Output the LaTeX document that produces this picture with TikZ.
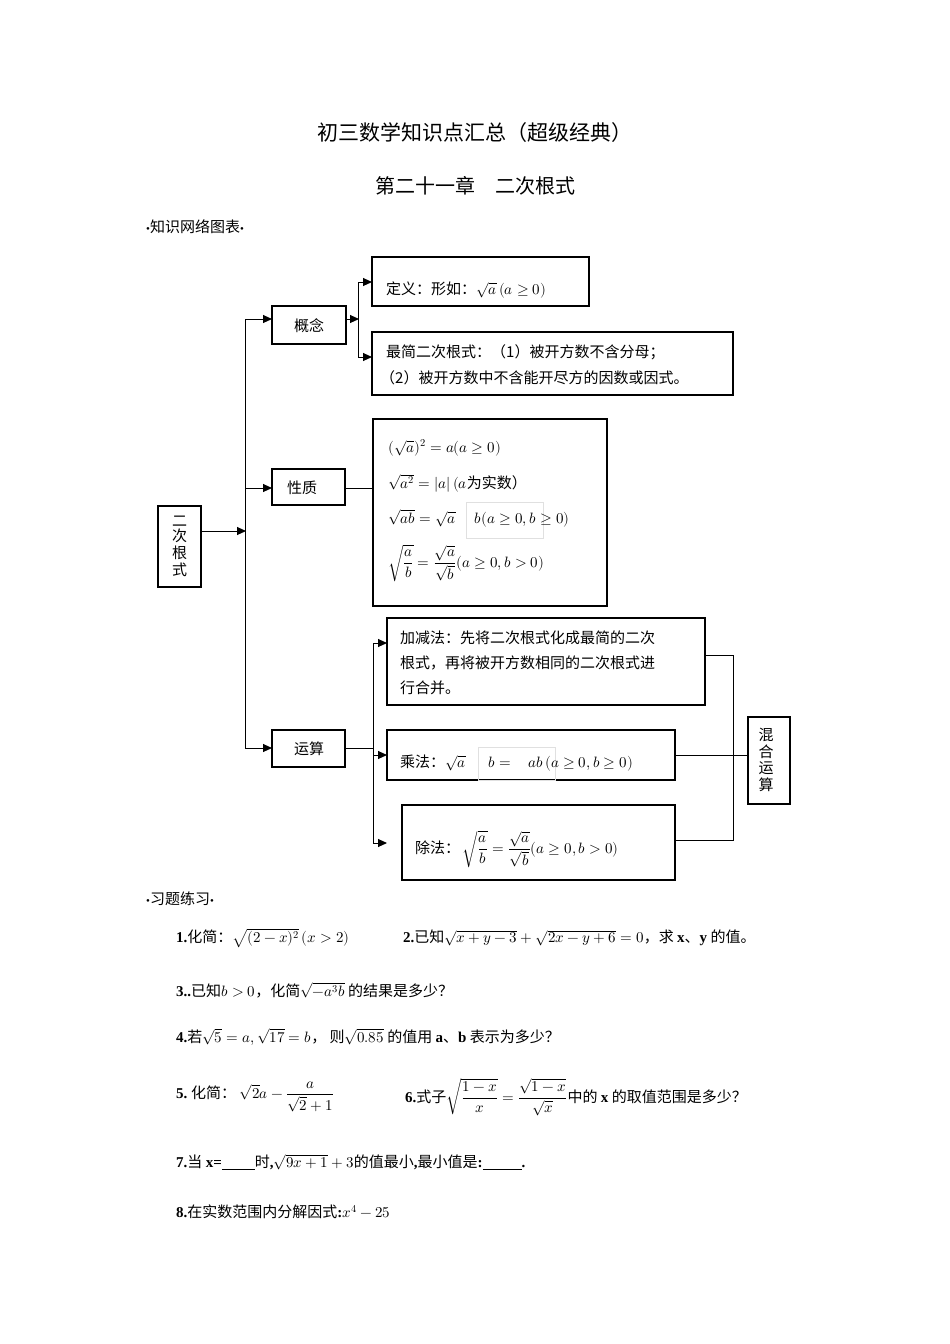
\documentclass[tikz,border=0pt]{standalone}
\usepackage{amsmath}
\usepackage{unicode-math}
\setmainfont{Liberation Serif}
\setmathfont{Latin Modern Math}
\newfontfamily\cjk{Noto Sans CJK SC}
\usetikzlibrary{arrows.meta}
\newcommand{\zh}[1]{{\cjk #1}}
\begin{document}
\begin{tikzpicture}[x=1pt,y=-1pt,
  bx/.style={draw,line width=1.2pt},
  ln/.style={line width=1pt},
  ar/.style={line width=1pt,-{Triangle[length=9pt,width=8pt]}},
  tx/.style={anchor=west,inner sep=0pt,font=\fontsize{15}{19}\selectfont},
  fa/.style={draw=black!12,line width=0.4pt}]
\useasboundingbox[fill=white] (0,0) rectangle (950,1344);
\node (t1) at (475,133) {\fontsize{21}{24}\selectfont\zh{初三数学知识点汇总（超级经典）}};
\node (t2) at (475,186) {\fontsize{20}{24}\selectfont\zh{第二十一章\quad 二次根式}};
\node[tx] (h1) at (146,227) {{\fontsize{11}{12}\selectfont•}\zh{知识网络图表}{\fontsize{11}{12}\selectfont•}};
% boxes
\draw[bx] (158,506) rectangle (201,587);
\node (root) at (179.5,546) {\fontsize{15}{17}\selectfont\zh{\shortstack{二\\次\\根\\式}}};
\draw[bx] (272,306) rectangle (346,344); \node (gn) at (309,326) {\fontsize{15}{18}\selectfont\zh{概念}};
\draw[bx] (272,469) rectangle (345,505); \node (xz) at (302,488) {\fontsize{15}{18}\selectfont\zh{性质}};
\draw[bx] (272,730) rectangle (345,767); \node (ys) at (309,749) {\fontsize{15}{18}\selectfont\zh{运算}};
\draw[bx] (372,257) rectangle (589,306);
\node[tx] (def) at (386,290) {\zh{定义：形如：}$\sqrt{a}\,(a\geq 0)$};
\draw[bx] (372,332) rectangle (733,395);
\node[tx] (zj1) at (386,352) {\zh{最简二次根式：（1）被开方数不含分母；}};
\node[tx] (zj2) at (380,378) {\zh{（2）被开方数中不含能开尽方的因数或因式。}};
\draw[bx] (373,419) rectangle (607,606);
\node[tx] (p1) at (388,448) {$(\sqrt{a})^{2}=a(a\geq 0)$};
\node[tx] (p2) at (388,483) {$\sqrt{a^{2}}=|a|\,(a$\zh{为实数）}};
\draw[fa] (466,502) rectangle (543,538);
\node[tx] (p3) at (388,518) {$\sqrt{ab}=\sqrt{a}\quad\; b(a\geq 0,b\geq 0)$};
\node[tx] (p4) at (388,563) {$\sqrt{\dfrac{a}{b}}=\dfrac{\sqrt{a}}{\sqrt{b}}(a\geq 0,b>0)$};
\draw[bx] (387,618) rectangle (705,705);
\node[tx] (j1) at (400,638) {\zh{加减法：先将二次根式化成最简的二次}};
\node[tx] (j2) at (400,663) {\zh{根式，再将被开方数相同的二次根式进}};
\node[tx] (j3) at (400,688) {\zh{行合并。}};
\draw[bx] (387,730) rectangle (675,780);
\draw[fa] (478,747) rectangle (555,780);
\node[tx] (cf) at (400,763) {\zh{乘法：}$\sqrt{a}\quad\;\; b=\;\;\; ab\,(a\geq 0,b\geq 0)$};
\draw[bx] (402,805) rectangle (675,880);
\node[tx] (cu) at (415,849) {\zh{除法：}\,$\sqrt{\dfrac{a}{b}}=\dfrac{\sqrt{a}}{\sqrt{b}}(a\geq 0,b>0)$};
\draw[bx] (748,717) rectangle (790,804);
\node (hh) at (766,760) {\fontsize{15}{17}\selectfont\zh{\shortstack{混\\合\\运\\算}}};
% connectors
\draw[ar] (201,531) -- (246,531);
\draw[ln] (245,748) -- (245,319);
\draw[ar] (245,319) -- (272,319);
\draw[ar] (245,488) -- (272,488);
\draw[ar] (245,748) -- (272,748);
\draw[ar] (346,319) -- (359,319);
\draw[ln] (358,282) -- (358,357);
\draw[ar] (358,282) -- (372,282);
\draw[ar] (358,357) -- (372,357);
\draw[ln] (345,488) -- (373,488);
\draw[ln] (345,748) -- (373,748);
\draw[ln] (373,643) -- (373,843);
\draw[ar] (373,643) -- (387,643);
\draw[ar] (373,755) -- (387,755);
\draw[ar] (373,843) -- (387,843);
\draw[ln] (705,655) -- (733,655) -- (733,840) -- (675,840);
\draw[ln] (675,755) -- (748,755);
% exercises
\node[tx] (h2) at (146,899) {{\fontsize{11}{12}\selectfont•}\zh{习题练习}{\fontsize{11}{12}\selectfont•}};
\node[tx] (e1) at (176,938) {\textbf{1.}\zh{化简：}$\sqrt{(2-x)^{2}}\,(x>2)$};
\node[tx] (e2) at (403,938) {\textbf{2.}\zh{已知}$\sqrt{x+y-3}+\sqrt{2x-y+6}=0$\zh{，求 }\textbf{x}\zh{、}\textbf{y}\zh{ 的值。}};
\node[tx] (e3) at (176,990) {\textbf{3..}\zh{已知}$b>0$\zh{，化简}$\sqrt{-a^{3}b}$\zh{ 的结果是多少？}};
\node[tx] (e4) at (176,1037) {\textbf{4.}\zh{若}$\sqrt{5}=a,\sqrt{17}=b$\zh{， 则}$\sqrt{0.85}$\zh{ 的值用 }\textbf{a}\zh{、}\textbf{b}\zh{ 表示为多少？}};
\node[tx] (e5) at (176,1097) {\textbf{5.}\ \zh{化简：}\ $\sqrt{2}a-\dfrac{a}{\sqrt{2}+1}$};
\node[tx] (e6) at (405,1097) {\textbf{6.}\zh{式子}$\sqrt{\dfrac{1-x}{x}}=\dfrac{\sqrt{1-x}}{\sqrt{x}}$\zh{中的 }\textbf{x}\zh{ 的取值范围是多少？}};
\node[tx] (e7) at (176,1162) {\textbf{7.}\zh{当 }\textbf{x=\underline{\hspace{2.2em}}}\zh{时}\textbf{,}$\sqrt{9x+1}+3$\zh{的值最小}\textbf{,}\zh{最小值是}\textbf{:\underline{\hspace{2.6em}}.}};
\node[tx] (e8) at (176,1212) {\textbf{8.}\zh{在实数范围内分解因式}\textbf{:}$x^{4}-25$};
\end{tikzpicture}
\end{document}
